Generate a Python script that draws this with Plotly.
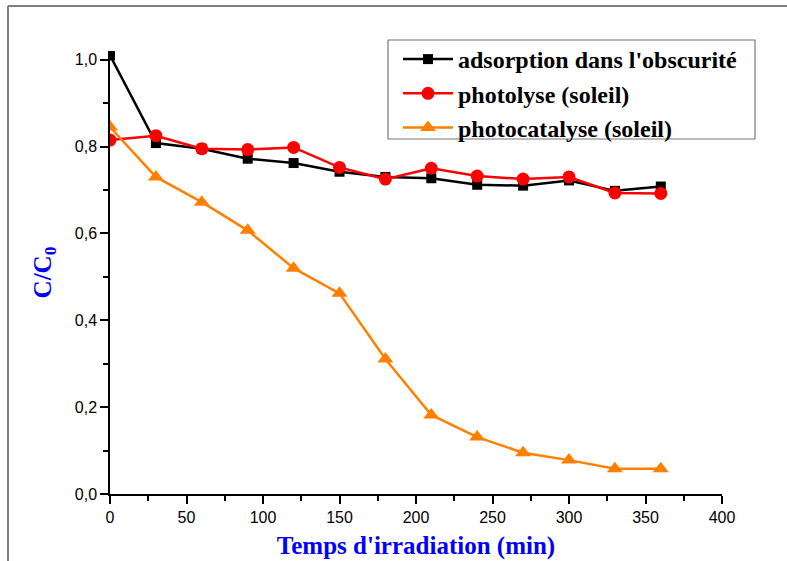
import plotly.graph_objects as go

time_min = [0, 30, 60, 90, 120, 150, 180, 210, 240, 270, 300, 330, 360]
adsorption = [1.01, 0.808, 0.795, 0.772, 0.762, 0.742, 0.73, 0.727, 0.712, 0.71, 0.722, 0.698, 0.708]
photolyse = [0.815, 0.825, 0.795, 0.793, 0.798, 0.752, 0.725, 0.75, 0.732, 0.725, 0.73, 0.693, 0.692]
photocatalyse = [0.845, 0.73, 0.672, 0.607, 0.52, 0.462, 0.311, 0.182, 0.131, 0.095, 0.078, 0.058, 0.058]

names = ["adsorption dans l'obscurité", "photolyse (soleil)", "photocatalyse (soleil)"]
colors = ["#000000", "#ff0000", "#ff8000"]
symbols = ["square", "circle", "triangle-up"]
sizes = [10, 13, 14]

fig = go.Figure()
for ys, nm, c, s, sz in zip([adsorption, photolyse, photocatalyse], names, colors, symbols, sizes):
    fig.add_trace(go.Scatter(x=time_min, y=ys, mode="lines+markers", name=nm,
                             line=dict(color=c, width=2.5),
                             marker=dict(symbol=s, size=sz, color=c)))

L, R, T, B = 110, 65, 51, 67
W, H = 787, 561
pw, ph = W - L - R, H - T - B

def px_x(px):
    return (px - L) / pw

def px_y(py):
    return (H - B - py) / ph

serif = "Liberation Serif, Times New Roman, serif"
sans = "Liberation Sans, Arial, sans-serif"

fig.update_layout(
    width=W, height=H,
    margin=dict(l=L, r=R, t=T, b=B, autoexpand=False),
    paper_bgcolor="white", plot_bgcolor="white",
    separators=",.",
    showlegend=True,
    legend=dict(x=px_x(398), y=px_y(37), xanchor="left", yanchor="top",
                borderwidth=0, bgcolor="rgba(0,0,0,0)",
                font=dict(family=serif, size=24, color="black", weight="bold"),
                itemwidth=50, tracegroupgap=0),
    xaxis=dict(range=[0, 400], tickvals=[0, 50, 100, 150, 200, 250, 300, 350, 400],
               automargin=False,
               showgrid=False, zeroline=False, showline=True, linecolor="black", linewidth=1.5,
               ticks="outside", ticklen=8, tickwidth=1.5, tickcolor="black",
               minor=dict(dtick=25, ticks="outside", ticklen=5, tickwidth=1.5, tickcolor="black"),
               tickfont=dict(family=sans, size=16, color="black"),
               title=dict(text="Temps d'irradiation (min)", standoff=12,
                          font=dict(family=serif, size=25, color="#0000ff", weight="bold"))),
    yaxis=dict(range=[0, 1.02], tickvals=[0, 0.2, 0.4, 0.6, 0.8, 1.0], tickformat=".1f",
               automargin=False,
               showgrid=False, zeroline=False, showline=True, linecolor="black", linewidth=1.5,
               ticks="outside", ticklen=8, tickwidth=1.5, tickcolor="black",
               minor=dict(dtick=0.1, ticks="outside", ticklen=5, tickwidth=1.5, tickcolor="black"),
               tickfont=dict(family=sans, size=16, color="black"),
               title=dict(text="C/C<sub>0</sub>", standoff=16,
                          font=dict(family=serif, size=25, color="#0000ff", weight="bold"))),
)

# legend frame
fig.add_shape(type="rect", xref="paper", yref="paper", x0=px_x(388), x1=px_x(755),
              y0=px_y(139), y1=px_y(40), line=dict(color="#777777", width=1.2), layer="below")

frame = dict(color="#808080", width=2)
fig.add_shape(type="line", xref="paper", yref="paper", x0=px_x(8), x1=px_x(800), y0=px_y(6), y1=px_y(6), line=frame)
fig.add_shape(type="line", xref="paper", yref="paper", x0=px_x(8), x1=px_x(8), y0=px_y(6), y1=px_y(570), line=frame)

fig.write_html("out.html")
